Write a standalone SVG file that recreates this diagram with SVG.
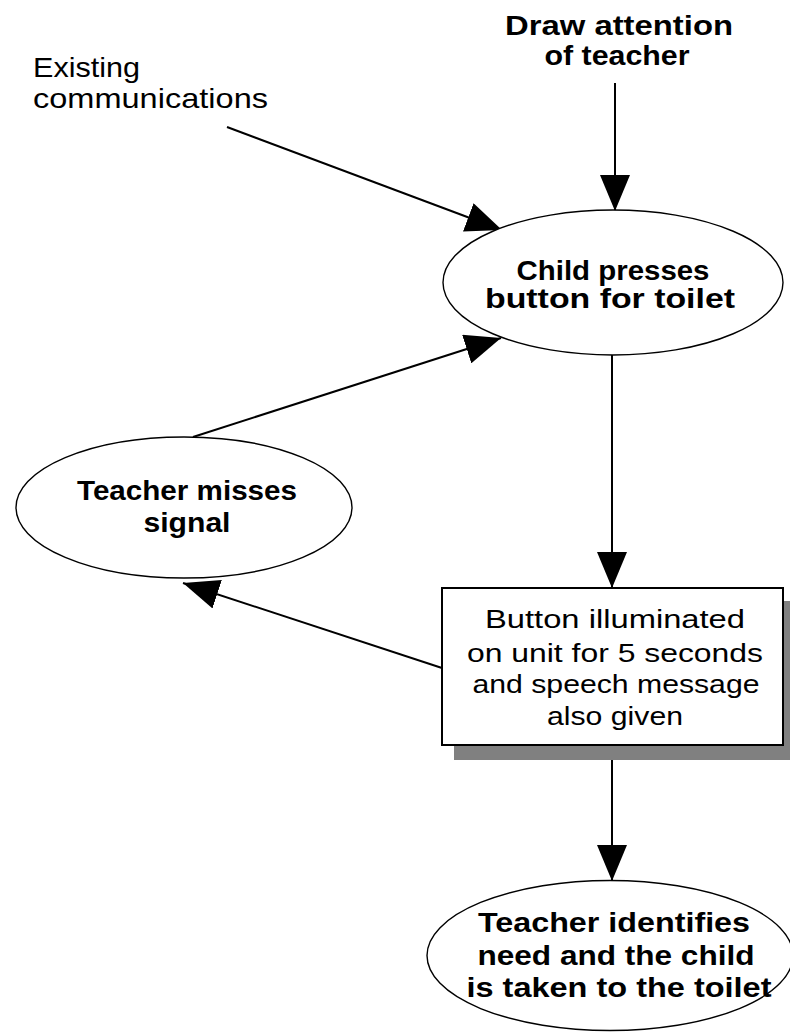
<svg xmlns="http://www.w3.org/2000/svg" width="790" height="1033" viewBox="0 0 790 1033">
  <style>
    .bg { fill: #ffffff; }
    .node { fill: #ffffff; stroke: #000000; stroke-width: 1.4; }
    .box { fill: #ffffff; stroke: #000000; stroke-width: 2; }
    .shadow { fill: #808080; }
    .edge { fill: none; stroke: #000000; stroke-width: 2; marker-end: url(#arrow); }
    .t { font-family: "Liberation Sans", Arial, sans-serif; fill: #000000; }
    .reg { font-size: 26px; font-weight: normal; }
    .big { font-size: 28px; font-weight: normal; }
    .bold { font-size: 27px; font-weight: bold; }
    .mid { text-anchor: middle; }
  </style>
  <defs>
    <marker id="arrow" markerUnits="userSpaceOnUse" markerWidth="36" markerHeight="30" refX="36" refY="15" orient="auto">
      <path d="M0,0 L36,15 L0,30 Z" fill="#000000"/>
    </marker>
  </defs>

  <rect class="bg" x="0" y="0" width="790" height="1033"/>

  <!-- connectors (drawn first so the ellipses sit on top of them) -->
  <g id="connectors">
    <line class="edge" x1="615" y1="83" x2="615" y2="211"/>
    <line class="edge" x1="227" y1="127" x2="502" y2="230"/>
    <line class="edge" x1="612" y1="355" x2="612" y2="588"/>
    <line class="edge" x1="193" y1="437" x2="501" y2="338"/>
    <line class="edge" x1="442" y1="668" x2="183" y2="583"/>
    <line class="edge" x1="612" y1="746" x2="612" y2="881"/>
  </g>

  <g id="label-existing">
    <text class="t big" x="33" y="77" textLength="107" lengthAdjust="spacingAndGlyphs">Existing</text>
    <text class="t big" x="33" y="108" textLength="235" lengthAdjust="spacingAndGlyphs">communications</text>
  </g>

  <g id="label-draw-attention">
    <text class="t bold mid" x="619" y="35" textLength="228" lengthAdjust="spacingAndGlyphs">Draw attention</text>
    <text class="t bold mid" x="617" y="65" textLength="145" lengthAdjust="spacingAndGlyphs">of teacher</text>
  </g>

  <g id="node-child-presses">
    <ellipse class="node" cx="613" cy="282.5" rx="170" ry="72.5"/>
    <text class="t bold mid" x="613" y="280" textLength="193" lengthAdjust="spacingAndGlyphs">Child presses</text>
    <text class="t bold mid" x="610" y="308" textLength="250" lengthAdjust="spacingAndGlyphs">button for toilet</text>
  </g>

  <g id="node-teacher-misses">
    <ellipse class="node" cx="184" cy="507.5" rx="168" ry="70.5"/>
    <text class="t bold mid" x="187" y="500" textLength="220" lengthAdjust="spacingAndGlyphs">Teacher misses</text>
    <text class="t bold mid" x="187" y="532" textLength="87" lengthAdjust="spacingAndGlyphs">signal</text>
  </g>

  <g id="node-button-illuminated">
    <rect class="shadow" x="454" y="601" width="341" height="159"/>
    <rect class="box" x="442" y="588" width="341" height="157"/>
    <text class="t reg mid" x="615" y="628" textLength="260" lengthAdjust="spacingAndGlyphs">Button illuminated</text>
    <text class="t reg mid" x="615" y="662" textLength="296" lengthAdjust="spacingAndGlyphs">on unit for 5 seconds</text>
    <text class="t reg mid" x="616" y="693" textLength="287" lengthAdjust="spacingAndGlyphs">and speech message</text>
    <text class="t reg mid" x="615" y="725" textLength="136" lengthAdjust="spacingAndGlyphs">also given</text>
  </g>

  <g id="node-teacher-identifies">
    <ellipse class="node" cx="610" cy="955.5" rx="183" ry="75"/>
    <text class="t bold mid" x="614" y="932" textLength="272" lengthAdjust="spacingAndGlyphs">Teacher identifies</text>
    <text class="t bold mid" x="616" y="965" textLength="277" lengthAdjust="spacingAndGlyphs">need and the child</text>
    <text class="t bold mid" x="619" y="997" textLength="305" lengthAdjust="spacingAndGlyphs">is taken to the toilet</text>
  </g>
</svg>
